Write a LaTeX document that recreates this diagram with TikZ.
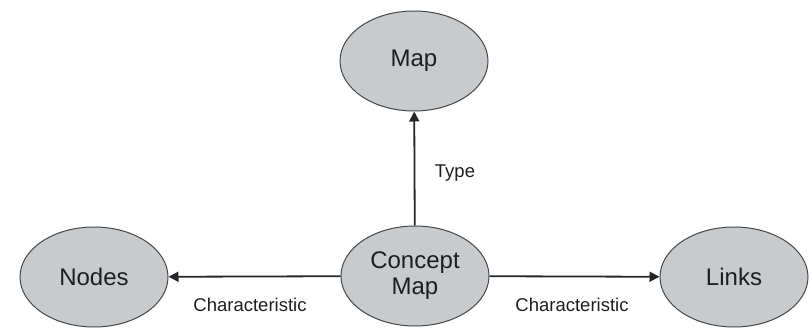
\documentclass[tikz,border=0pt]{standalone}
\usepackage{fontspec}
\setmainfont{Liberation Sans}
\usetikzlibrary{shapes.geometric,arrows.meta}
\definecolor{ellfill}{RGB}{200,203,206}
\definecolor{ellline}{RGB}{70,70,70}
\definecolor{txt}{RGB}{30,30,30}
\begin{document}
\begin{tikzpicture}[x=1pt,y=1pt,
  concept/.style={ellipse,draw=ellline,fill=ellfill,line width=1pt,minimum width=148pt,minimum height=100pt,inner sep=0pt,align=center,font=\fontsize{24}{26}\selectfont,text=txt},
  link/.style={draw=black!85,line width=1.8pt,-{Triangle[length=10pt,width=10pt]}},
  lbl/.style={font=\fontsize{18.5}{20}\selectfont,text=txt,inner sep=0pt}]
\useasboundingbox (0,0) rectangle (812,330);
\node[concept] (map) at (414,269) {Map};
\node[concept] (cm) at (415,54) {Concept\\Map};
\node[concept] (nodes) at (94,53) {Nodes};
\node[concept] (links) at (734,53) {Links};
\draw[link] (cm) -- (map);
\draw[link] (cm) -- (nodes);
\draw[link] (cm) -- (links);
\node[lbl] (t1) at (455,157) {Type};
\node[lbl] (t2) at (250,25) {Characteristic};
\node[lbl] (t3) at (572,25) {Characteristic};
\end{tikzpicture}
\end{document}
